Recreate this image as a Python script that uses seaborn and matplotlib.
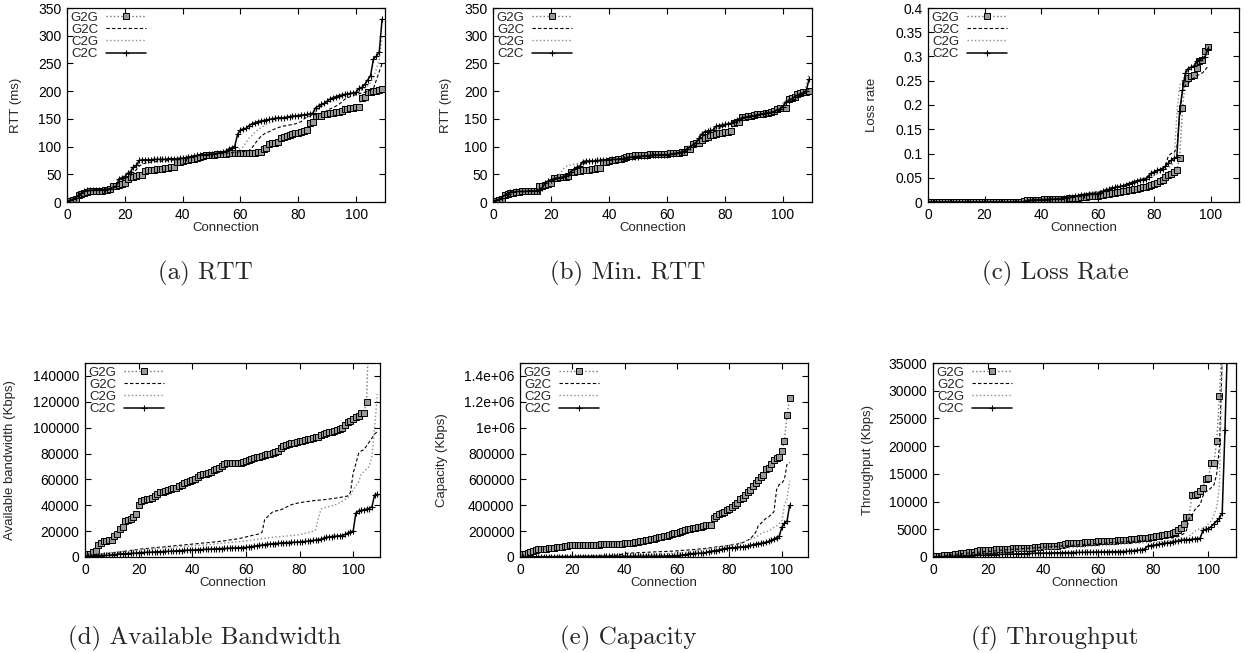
import numpy as np
import matplotlib
matplotlib.use('Agg')
import matplotlib.pyplot as plt
from matplotlib.ticker import FuncFormatter, MultipleLocator
import seaborn as sns

series_names = ['G2G', 'G2C', 'C2G', 'C2C']

# (a) RTT, ms
rtt_g2g = [1, 2, 3, 5, 13, 15, 17, 18, 19, 20,
           20, 20, 20, 21, 22, 24, 28, 29, 30, 33,
           35, 42, 45, 46, 47, 48, 49, 56, 57, 58,
           58, 59, 59, 60, 61, 62, 63, 64, 72, 73,
           74, 75, 76, 77, 78, 80, 82, 83, 84, 84,
           85, 85, 86, 86, 87, 87, 88, 88, 88, 88,
           88, 89, 89, 89, 89, 89, 90, 90, 95, 98,
           105, 106, 107, 108, 115, 117, 119, 121, 122, 124,
           125, 127, 128, 130, 143, 144, 155, 155, 156, 158,
           159, 160, 161, 162, 163, 165, 167, 168, 170, 170,
           171, 171, 188, 190, 198, 199, 200, 201, 202, 204]
rtt_g2c = [2, 3, 5, 8, 13, 16, 19, 20, 20, 21,
           21, 21, 21, 22, 22, 23, 26, 28, 36, 40,
           42, 45, 50, 55, 58, 65, 68, 70, 71, 72,
           72, 73, 73, 74, 74, 75, 75, 76, 76, 77,
           78, 80, 81, 82, 83, 84, 84, 85, 85, 86,
           86, 86, 87, 87, 88, 88, 89, 89, 90, 90,
           91, 91, 92, 93, 98, 105, 112, 118, 122, 125,
           127, 130, 132, 134, 136, 137, 138, 139, 140, 141,
           143, 145, 150, 153, 155, 157, 158, 159, 160, 162,
           165, 168, 170, 173, 176, 180, 185, 188, 190, 192,
           194, 195, 197, 198, 200, 202, 204, 220, 235, 250]
rtt_c2g = [2, 3, 5, 8, 13, 16, 20, 20, 21, 21,
           21, 22, 22, 22, 23, 24, 27, 28, 38, 42,
           44, 48, 53, 60, 64, 70, 72, 73, 74, 74,
           75, 75, 76, 76, 76, 77, 77, 77, 78, 78,
           79, 80, 81, 82, 83, 84, 85, 85, 85, 86,
           86, 87, 87, 88, 88, 89, 90, 91, 92, 94,
           96, 100, 108, 115, 120, 126, 130, 134, 137, 140,
           142, 145, 147, 149, 150, 151, 152, 153, 154, 155,
           155, 156, 157, 157, 158, 159, 163, 168, 172, 175,
           178, 181, 184, 186, 188, 190, 192, 193, 195, 196,
           197, 199, 203, 206, 210, 215, 225, 240, 255, 300]
rtt_c2c = [2, 3, 5, 8, 12, 16, 20, 21, 21, 21,
           22, 22, 22, 22, 23, 24, 27, 28, 42, 44,
           46, 52, 55, 64, 66, 75, 76, 76, 76, 76,
           77, 77, 77, 77, 77, 78, 78, 78, 78, 79,
           79, 80, 81, 82, 83, 84, 85, 85, 85, 86,
           86, 87, 88, 89, 90, 92, 96, 98, 100, 122,
           130, 132, 133, 138, 141, 143, 145, 146, 147, 148,
           149, 150, 151, 152, 152, 152, 153, 154, 155, 155,
           156, 157, 157, 158, 159, 160, 170, 173, 176, 178,
           182, 186, 188, 190, 192, 193, 194, 195, 196, 197,
           198, 205, 207, 212, 220, 228, 258, 263, 270, 330]

# (b) Min. RTT, ms
minrtt_g2g = [1, 2, 3, 5, 13, 14, 16, 17, 18, 18,
              19, 19, 19, 19, 20, 20, 28, 29, 30, 33,
              35, 43, 44, 45, 45, 46, 47, 55, 55, 56,
              56, 57, 57, 58, 60, 60, 61, 61, 72, 73,
              74, 75, 76, 77, 78, 79, 82, 83, 83, 84,
              84, 85, 85, 85, 86, 86, 86, 87, 87, 87,
              87, 88, 88, 89, 89, 90, 90, 95, 96, 105,
              106, 107, 112, 115, 118, 120, 121, 122, 124, 125,
              126, 127, 128, 142, 144, 145, 153, 154, 155, 155,
              157, 158, 158, 159, 160, 161, 162, 165, 167, 169,
              170, 170, 185, 188, 190, 195, 197, 198, 199, 200]
minrtt_g2c = [2, 3, 5, 8, 12, 15, 17, 18, 18, 19,
              19, 19, 19, 20, 20, 21, 24, 27, 33, 37,
              39, 42, 43, 44, 45, 47, 50, 56, 58, 60,
              62, 68, 70, 72, 73, 73, 74, 74, 75, 75,
              76, 76, 77, 77, 78, 78, 80, 81, 81, 82,
              82, 83, 83, 84, 84, 85, 85, 85, 86, 86,
              86, 87, 87, 88, 89, 90, 91, 95, 99, 104,
              108, 114, 118, 121, 123, 125, 127, 131, 133, 135,
              137, 139, 141, 144, 147, 149, 152, 153, 154, 155,
              156, 157, 158, 159, 160, 161, 162, 164, 167, 170,
              175, 182, 185, 187, 190, 193, 195, 197, 199, 205]
minrtt_c2g = [2, 3, 5, 8, 12, 15, 17, 18, 19, 19,
              19, 20, 20, 20, 20, 21, 24, 27, 34, 38,
              40, 43, 45, 50, 58, 64, 66, 67, 68, 69,
              70, 72, 73, 73, 74, 74, 75, 75, 75, 76,
              76, 77, 77, 78, 78, 79, 80, 81, 82, 82,
              83, 83, 84, 84, 84, 85, 85, 86, 86, 86,
              87, 87, 88, 89, 90, 92, 96, 100, 102, 105,
              110, 118, 124, 126, 127, 128, 129, 132, 134, 136,
              138, 140, 142, 145, 148, 150, 152, 153, 154, 155,
              156, 157, 158, 159, 160, 161, 162, 164, 168, 172,
              178, 183, 186, 188, 191, 194, 196, 198, 210, 232]
minrtt_c2c = [2, 3, 5, 8, 12, 15, 18, 18, 19, 19,
              19, 19, 20, 20, 20, 20, 22, 25, 35, 38,
              40, 42, 43, 44, 45, 47, 50, 55, 60, 63,
              65, 73, 74, 74, 74, 74, 75, 75, 75, 76,
              76, 77, 77, 77, 78, 78, 80, 81, 81, 82,
              82, 83, 83, 83, 84, 84, 84, 85, 85, 85,
              85, 86, 87, 88, 89, 90, 92, 96, 100, 103,
              106, 115, 122, 127, 128, 129, 130, 137, 138, 139,
              140, 141, 142, 145, 148, 150, 152, 153, 154, 155,
              156, 157, 158, 159, 160, 161, 162, 163, 166, 168,
              172, 180, 183, 185, 190, 193, 195, 197, 200, 222]

# (c) Loss rate
loss_g2g = [0, 0, 0, 0, 0, 0, 0, 0, 0, 0,
            0, 0, 0, 0, 0, 0, 0, 0, 0, 0,
            0, 0, 0, 0, 0, 0, 0, 0, 0, 0,
            0, 0, 0, 0, 0.003, 0.004, 0.004, 0.005, 0.005, 0.005,
            0.005, 0.006, 0.006, 0.006, 0.006, 0.006, 0.006, 0.007, 0.007, 0.007,
            0.008, 0.008, 0.009, 0.009, 0.010, 0.010, 0.011, 0.012, 0.012, 0.013,
            0.013, 0.014, 0.015, 0.016, 0.017, 0.018, 0.019, 0.020, 0.021, 0.022,
            0.023, 0.024, 0.025, 0.026, 0.027, 0.028, 0.030, 0.031, 0.033, 0.035,
            0.037, 0.040, 0.043, 0.046, 0.052, 0.056, 0.058, 0.061, 0.066, 0.091,
            0.193, 0.246, 0.255, 0.260, 0.262, 0.276, 0.290, 0.292, 0.311, 0.320]
loss_g2c = [0, 0, 0, 0, 0, 0, 0, 0, 0, 0,
            0, 0, 0, 0, 0, 0, 0, 0, 0, 0,
            0, 0, 0, 0, 0, 0, 0, 0, 0, 0,
            0, 0, 0, 0, 0.002, 0.003, 0.004, 0.004, 0.005, 0.005,
            0.005, 0.005, 0.006, 0.006, 0.006, 0.007, 0.007, 0.008, 0.009, 0.010,
            0.011, 0.012, 0.013, 0.014, 0.015, 0.016, 0.017, 0.018, 0.019, 0.020,
            0.021, 0.022, 0.024, 0.026, 0.028, 0.030, 0.031, 0.032, 0.033, 0.034,
            0.036, 0.038, 0.040, 0.042, 0.044, 0.046, 0.048, 0.050, 0.055, 0.058,
            0.061, 0.064, 0.067, 0.070, 0.075, 0.095, 0.100, 0.102, 0.110, 0.180,
            0.230, 0.240, 0.245, 0.250, 0.255, 0.260, 0.263, 0.266, 0.272, 0.280]
loss_c2g = [0, 0, 0, 0, 0, 0, 0, 0, 0, 0,
            0, 0, 0, 0, 0, 0, 0, 0, 0, 0,
            0, 0, 0, 0, 0, 0, 0, 0, 0, 0,
            0, 0, 0, 0, 0.002, 0.003, 0.004, 0.004, 0.005, 0.005,
            0.005, 0.005, 0.006, 0.006, 0.006, 0.007, 0.007, 0.008, 0.009, 0.010,
            0.011, 0.012, 0.013, 0.014, 0.015, 0.016, 0.017, 0.018, 0.019, 0.020,
            0.021, 0.022, 0.024, 0.026, 0.027, 0.028, 0.029, 0.030, 0.031, 0.032,
            0.034, 0.036, 0.038, 0.040, 0.042, 0.044, 0.046, 0.048, 0.050, 0.052,
            0.055, 0.058, 0.061, 0.064, 0.067, 0.070, 0.075, 0.082, 0.180, 0.240,
            0.250, 0.260, 0.268, 0.274, 0.280, 0.285, 0.290, 0.295, 0.300, 0.305]
loss_c2c = [0, 0, 0, 0, 0, 0, 0, 0, 0, 0,
            0, 0, 0, 0, 0, 0, 0, 0, 0, 0,
            0, 0, 0, 0, 0, 0, 0, 0, 0, 0,
            0, 0, 0, 0, 0, 0.003, 0.004, 0.004, 0.005, 0.005,
            0.005, 0.005, 0.005, 0.006, 0.006, 0.006, 0.007, 0.007, 0.008, 0.009,
            0.010, 0.011, 0.012, 0.013, 0.014, 0.015, 0.015, 0.016, 0.016, 0.017,
            0.017, 0.019, 0.022, 0.025, 0.026, 0.028, 0.030, 0.031, 0.032, 0.033,
            0.036, 0.038, 0.040, 0.042, 0.044, 0.045, 0.046, 0.048, 0.052, 0.060,
            0.062, 0.065, 0.067, 0.069, 0.074, 0.080, 0.086, 0.090, 0.092, 0.187,
            0.230, 0.265, 0.275, 0.278, 0.280, 0.290, 0.293, 0.296, 0.300, 0.316]

# (d) Available bandwidth, Kbps
avbw_g2g = [2000, 2000, 2500, 3500, 5000, 9000, 11000, 12000, 12500, 13000,
            13500, 16000, 18000, 22000, 23000, 27500, 28500, 29500, 31000, 33500,
            40000, 43000, 44000, 44500, 45000, 46000, 47000, 48500, 50000, 50500,
            51000, 51500, 52500, 53000, 53500, 55000, 56000, 57000, 58000, 59000,
            59500, 60500, 62000, 63500, 64000, 64500, 65000, 66000, 67000, 68000,
            69000, 70500, 72000, 72500, 73000, 73000, 73000, 73000, 73000, 73500,
            74000, 75000, 76000, 76500, 77000, 77500, 78000, 79000, 80000, 80000,
            80500, 81000, 82000, 84000, 85500, 86500, 87000, 88000, 88500, 89000,
            89500, 90000, 90500, 91000, 91500, 92000, 92500, 93000, 94000, 95000,
            96000, 96500, 97000, 97500, 98000, 99000, 100000, 102000, 104000, 105000,
            107000, 108000, 109000, 111000, 111500, 120000, 190000]
avbw_g2c = [1000, 1200, 1500, 1700, 1800, 2000, 2300, 2500, 2600, 2800,
            3000, 3400, 3600, 3800, 4200, 4500, 4700, 5100, 5400, 5600,
            6000, 6200, 6300, 6600, 6800, 7000, 7100, 7400, 7600, 7700,
            8000, 8200, 8300, 8600, 8800, 9000, 9100, 9400, 9600, 9700,
            10000, 10200, 10300, 10600, 10800, 11000, 11100, 11400, 11600, 11700,
            12000, 12300, 12500, 12900, 13200, 13400, 13800, 14100, 14500, 15000,
            15500, 15900, 16500, 17000, 17400, 18000, 19000, 29000, 31000, 33000,
            35000, 35500, 36000, 36500, 37500, 38500, 39500, 40500, 41000, 41500,
            42000, 42300, 42600, 42900, 43200, 43500, 43700, 43900, 44100, 44300,
            44500, 44800, 45100, 45400, 45700, 46000, 46400, 46800, 47200, 50000,
            65000, 72000, 80000, 82000, 83000, 86000, 89000, 92000, 95000, 97000]
avbw_c2g = [800, 1000, 1300, 1600, 1900, 2200, 2500, 2700, 3000, 3200,
            3500, 3700, 4000, 4200, 4400, 4600, 4800, 5000, 5200, 5400,
            5600, 5800, 6000, 6100, 6300, 6400, 6600, 6700, 6900, 7000,
            7200, 7300, 7500, 7600, 7800, 7900, 8100, 8200, 8400, 8500,
            8700, 8800, 9000, 9100, 9300, 9400, 9600, 9800, 10000, 10200,
            10400, 10600, 10800, 11000, 11200, 11400, 11600, 11800, 12000, 12200,
            12400, 12700, 13000, 13300, 13600, 13900, 14200, 14500, 14800, 15000,
            15200, 15400, 15600, 15800, 16000, 16200, 16400, 16600, 16800, 17000,
            17300, 17700, 18200, 18800, 19400, 20000, 21000, 30000, 37000, 38000,
            38500, 39000, 39500, 40000, 41000, 42000, 43000, 44500, 46000, 48000,
            52000, 55000, 58000, 64000, 66000, 68000, 70000, 78000, 100000, 126000]
avbw_c2c = [500, 600, 700, 800, 900, 1000, 1100, 1200, 1300, 1400,
            1600, 1800, 2200, 2400, 2500, 2600, 2700, 2800, 2900, 3000,
            3200, 3400, 3500, 3600, 3700, 3800, 3900, 4000, 4100, 4200,
            4300, 4400, 4500, 4600, 4700, 4900, 5000, 5100, 5200, 5300,
            5400, 5500, 5600, 5700, 5800, 5900, 6000, 6100, 6200, 6300,
            6400, 6500, 6600, 6700, 6800, 6900, 7000, 7100, 7200, 7300,
            7400, 7700, 8000, 8300, 8600, 8900, 9200, 9500, 9800, 10000,
            10200, 10400, 10600, 10800, 11000, 11100, 11200, 11300, 11400, 11500,
            11600, 11800, 12000, 12200, 12500, 12800, 13100, 13400, 13800, 14500,
            15200, 15500, 15800, 16000, 16200, 16400, 16600, 17500, 18500, 19500,
            20000, 34000, 35500, 36000, 36500, 37000, 37500, 39000, 48000, 48500]

# (e) Capacity, Kbps
cap_g2g = [10000, 20000, 25000, 30000, 35000, 50000, 55000, 60000, 62000, 64000,
           65000, 67000, 70000, 72000, 74000, 76000, 80000, 85000, 88000, 90000,
           91000, 92000, 92000, 93000, 93000, 94000, 94000, 95000, 95000, 96000,
           96000, 97000, 97000, 98000, 99000, 100000, 101000, 102000, 103000, 104000,
           106000, 108000, 110000, 112000, 115000, 118000, 122000, 126000, 130000, 134000,
           138000, 142000, 148000, 153000, 158000, 162000, 166000, 170000, 176000, 182000,
           188000, 194000, 200000, 208000, 215000, 220000, 223000, 226000, 230000, 235000,
           240000, 244000, 247000, 250000, 300000, 315000, 330000, 340000, 350000, 360000,
           375000, 390000, 400000, 415000, 450000, 460000, 480000, 500000, 520000, 550000,
           575000, 595000, 615000, 635000, 680000, 690000, 720000, 750000, 765000, 775000,
           820000, 900000, 1100000, 1230000]
cap_g2c = [2000, 2500, 3000, 3000, 3500, 3500, 4000, 4000, 4000, 4500,
           4500, 4500, 5000, 5000, 5000, 5000, 5500, 5500, 5500, 6000,
           6000, 6000, 6500, 6500, 7000, 7000, 7500, 7500, 8000, 8000,
           8500, 9000, 9500, 10000, 11000, 12000, 13000, 15000, 18000, 22000,
           28000, 29000, 30000, 31000, 32000, 33000, 34000, 35000, 36000, 37000,
           38000, 39000, 40000, 41000, 41500, 42000, 43000, 44000, 45000, 46500,
           48000, 49500, 51000, 52500, 54000, 55000, 57000, 59000, 61000, 63000,
           65000, 67500, 70000, 72500, 75000, 78000, 80000, 83000, 86000, 88000,
           90000, 94000, 98000, 100000, 105000, 110000, 120000, 130000, 140000, 165000,
           190000, 240000, 260000, 280000, 300000, 310000, 330000, 350000, 520000, 560000,
           570000, 600000, 720000, 730000]
cap_c2g = [1000, 1000, 1500, 1500, 1500, 2000, 2000, 2000, 2000, 2500,
           2500, 2500, 2500, 3000, 3000, 3000, 3000, 3500, 3500, 3500,
           3500, 4000, 4000, 4000, 4500, 4500, 4500, 5000, 5000, 5000,
           5500, 5500, 6000, 6000, 6500, 7000, 7500, 8000, 9000, 10000,
           11000, 12000, 13000, 14000, 15000, 16000, 17000, 18000, 19000, 20000,
           21000, 22000, 23000, 24000, 25000, 26000, 27000, 28000, 29000, 30000,
           31000, 32000, 34000, 36000, 38000, 40000, 43000, 46000, 50000, 54000,
           58000, 62000, 65000, 68000, 70000, 73000, 76000, 80000, 84000, 88000,
           92000, 96000, 100000, 105000, 110000, 115000, 122000, 130000, 138000, 145000,
           152000, 165000, 180000, 190000, 195000, 200000, 215000, 230000, 240000, 260000,
           280000, 400000, 450000, 590000]
cap_c2c = [1000, 1000, 1000, 1000, 1000, 1500, 1500, 1500, 1500, 1500,
           2000, 2000, 2000, 2000, 2000, 2000, 2500, 2500, 2500, 2500,
           2500, 3000, 3000, 3000, 3000, 3000, 3000, 3500, 3500, 3500,
           3500, 3500, 4000, 4000, 4000, 4000, 4000, 4500, 4500, 4500,
           4500, 5000, 5000, 5000, 5000, 5500, 5500, 5500, 6000, 6000,
           6000, 6500, 6500, 7000, 7000, 7500, 8000, 8500, 9000, 10000,
           11000, 13000, 15000, 18000, 22000, 25000, 27000, 28000, 29000, 30000,
           30000, 35000, 40000, 45000, 48000, 50000, 55000, 60000, 65000, 68000,
           70000, 72000, 73000, 75000, 77000, 79000, 80000, 85000, 90000, 95000,
           100000, 103000, 106000, 110000, 115000, 120000, 130000, 140000, 150000, 160000,
           230000, 260000, 280000, 400000]

# (f) Throughput, Kbps
thr_g2g = [100, 150, 200, 250, 300, 350, 400, 450, 500, 600,
           700, 750, 800, 850, 900, 950, 1100, 1200, 1250, 1300,
           1300, 1350, 1350, 1400, 1400, 1450, 1450, 1500, 1500, 1550,
           1550, 1600, 1600, 1650, 1650, 1700, 1700, 1750, 1800, 1850,
           1900, 1950, 2000, 2000, 2050, 2050, 2100, 2150, 2400, 2450,
           2450, 2500, 2500, 2550, 2600, 2650, 2700, 2700, 2750, 2750,
           2800, 2850, 2850, 2900, 2900, 2950, 2950, 3000, 3000, 3050,
           3100, 3150, 3200, 3250, 3300, 3350, 3400, 3450, 3500, 3550,
           3600, 3700, 3800, 3900, 4000, 4100, 4200, 4400, 4600, 4900,
           5200, 5900, 7300, 7300, 11200, 11200, 11300, 11900, 12500, 14000,
           14200, 17000, 17000, 21000, 29000, 40000]
thr_g2c = [50, 100, 150, 200, 250, 300, 350, 400, 450, 500,
           550, 600, 650, 700, 750, 800, 850, 900, 950, 1000,
           1000, 1050, 1100, 1150, 1200, 1250, 1300, 1300, 1350, 1400,
           1400, 1450, 1500, 1500, 1550, 1600, 1600, 1650, 1700, 1700,
           1750, 1800, 1800, 1850, 1900, 1900, 1950, 2000, 2000, 2050,
           2100, 2100, 2150, 2200, 2200, 2250, 2300, 2300, 2350, 2400,
           2400, 2450, 2500, 2500, 2550, 2600, 2600, 2650, 2700, 2700,
           2750, 2800, 2800, 2850, 2900, 2900, 2950, 3000, 3000, 3050,
           3100, 3150, 3200, 3250, 3300, 3350, 3400, 3450, 3500, 3700,
           3900, 4200, 4800, 7000, 7500, 8500, 9000, 9500, 11000, 11800,
           12000, 12500, 13000, 15000, 20000, 36000]
thr_c2g = [50, 80, 100, 130, 160, 200, 230, 260, 300, 330,
           360, 400, 430, 460, 500, 530, 560, 600, 630, 660,
           700, 730, 760, 800, 830, 860, 900, 930, 960, 1000,
           1030, 1060, 1100, 1130, 1160, 1200, 1230, 1260, 1300, 1330,
           1360, 1400, 1430, 1460, 1500, 1530, 1560, 1600, 1630, 1660,
           1700, 1730, 1760, 1800, 1830, 1860, 1900, 1930, 1960, 2000,
           2030, 2060, 2100, 2130, 2160, 2200, 2230, 2260, 2300, 2330,
           2360, 2400, 2430, 2460, 2500, 2530, 2560, 2600, 2630, 2660,
           2700, 2730, 2760, 2800, 2850, 2900, 2950, 3000, 3050, 3100,
           3200, 3300, 3500, 3800, 4200, 4600, 5000, 5000, 5200, 5500,
           6000, 6500, 7500, 9000, 13000, 36000]
thr_c2c = [20, 30, 40, 50, 60, 80, 100, 120, 140, 160,
           180, 200, 220, 240, 260, 280, 300, 320, 340, 360,
           380, 400, 420, 440, 460, 480, 500, 510, 520, 530,
           540, 560, 580, 600, 620, 640, 660, 680, 690, 700,
           700, 710, 720, 730, 740, 750, 760, 770, 780, 790,
           800, 810, 820, 830, 840, 850, 860, 870, 880, 890,
           900, 910, 920, 930, 940, 950, 960, 970, 980, 990,
           1000, 1050, 1100, 1150, 1200, 1250, 1300, 1500, 2000, 2050,
           2100, 2200, 2300, 2400, 2500, 2550, 2600, 2700, 2800, 2900,
           3000, 3050, 3100, 3150, 3200, 3250, 3300, 3400, 4800, 5000,
           5100, 5500, 6000, 6500, 7000, 8000, 23000, 40000]

sns.set_style('ticks')
plt.rcParams['font.family'] = ['Liberation Sans', 'DejaVu Sans']

W, H = 1248, 653
fig = plt.figure(figsize=(W / 100, H / 100), dpi=100)

# seaborn paints marker edges white by default, so set them explicitly
styles = {
    'G2G': dict(color='0.45', linestyle=':', linewidth=1.0, marker='s', markersize=3.8,
                markerfacecolor='0.6', markeredgecolor='black', markeredgewidth=0.7),
    'G2C': dict(color='black', linestyle=(0, (3, 2)), linewidth=0.8),
    'C2G': dict(color='0.55', linestyle=':', linewidth=1.0),
    'C2C': dict(color='black', linestyle='-', linewidth=1.1, marker='+', markersize=4.5,
                markeredgecolor='black', markeredgewidth=0.8),
}

panels = [
    # data, box (left, top, right, bottom in px), ymax, ystep, ylabel, ylabel x (axes), caption
    ([rtt_g2g, rtt_g2c, rtt_c2g, rtt_c2c], (67, 8, 385, 202), 350, 50,
     'RTT (ms)', -0.14, '(a) RTT', 205, 279),
    ([minrtt_g2g, minrtt_g2c, minrtt_c2g, minrtt_c2c], (493, 8, 812, 202), 350, 50,
     'RTT (ms)', -0.13, '(b) Min. RTT', 628, 279),
    ([loss_g2g, loss_g2c, loss_c2g, loss_c2c], (928, 8, 1239, 202), 0.4, 0.05,
     'Loss rate', -0.16, '(c) Loss Rate', 1055, 279),
    ([avbw_g2g, avbw_g2c, avbw_c2g, avbw_c2c], (85, 363, 380, 557), 150000, 20000,
     'Available bandwidth (Kbps)', -0.235, '(d) Available Bandwidth', 205, 644),
    ([cap_g2g, cap_g2c, cap_c2g, cap_c2c], (520, 363, 808, 557), 1500000, 200000,
     'Capacity (Kbps)', -0.25, '(e) Capacity', 628, 644),
    ([thr_g2g, thr_g2c, thr_c2g, thr_c2c], (933, 363, 1236, 557), 35000, 5000,
     'Throughput (Kbps)', -0.195, '(f) Throughput', 1055, 644),
]

for data, (l, t, r, b), ymax, ystep, ylabel, ylx, caption, cx, cy in panels:
    ax = fig.add_axes([l / W, 1 - b / H, (r - l) / W, (b - t) / H])
    for name, vals in zip(series_names, data):
        sns.lineplot(x=np.arange(len(vals)), y=vals, ax=ax, label=name,
                     errorbar=None, **styles[name])
    ax.set_xlim(0, 110)
    ax.set_ylim(0, ymax)
    ax.xaxis.set_major_locator(MultipleLocator(20))
    ax.yaxis.set_major_locator(MultipleLocator(ystep))
    ax.yaxis.set_major_formatter(FuncFormatter(lambda v, p: '%g' % round(v, 6)))
    ax.tick_params(direction='in', top=True, right=True, length=4, width=0.8,
                   labelsize=10, pad=4, colors='black')
    for sp in ax.spines.values():
        sp.set_linewidth(0.9)
        sp.set_color('black')
    ax.set_xlabel('Connection', fontsize=9.5)
    ax.set_ylabel(ylabel, fontsize=9.5)
    ax.xaxis.set_label_coords(0.5, -0.105)
    ax.yaxis.set_label_coords(ylx, 0.5)
    ax.legend(loc='upper left', frameon=False, markerfirst=False, fontsize=9.5,
              handlelength=3.0, handletextpad=0.6, labelspacing=0.0,
              borderpad=0.15, borderaxespad=0.1, numpoints=1)
    fig.text(cx / W, 1 - cy / H, caption, ha='center', va='baseline',
             fontsize=18, family='cmr10')

fig.savefig('out.png', dpi=100)
